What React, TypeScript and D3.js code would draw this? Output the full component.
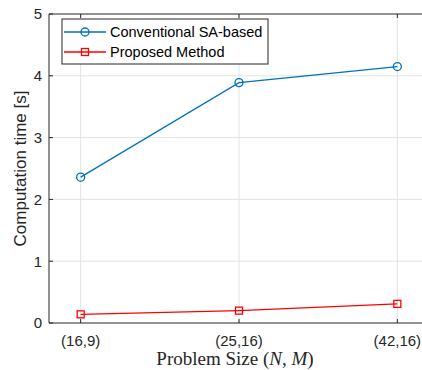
import React, { useEffect, useRef } from "react";
import * as d3 from "d3";

const categories = ["(16,9)", "(25,16)", "(42,16)"];
const conventional = [2.36, 3.89, 4.15];
const proposed = [0.14, 0.2, 0.31];
const yTicks = [0, 1, 2, 3, 4, 5];
const seriesNames = ["Conventional SA-based", "Proposed Method"];

const W = 422;
const H = 370;

const App = () => {
  const ref = useRef<SVGSVGElement>(null);

  useEffect(() => {
    const svg = d3.select(ref.current);
    svg.selectAll("*").remove();

    const left = 49, top = 14, bottom = 323;
    const x = d3.scaleLinear().domain([0.8, 3.2]).range([left, 429]);
    const y = d3.scaleLinear().domain([0, 5]).range([bottom, top]);
    const font = "'Liberation Sans', Arial, sans-serif";

    // grid
    const g = svg.append("g");
    g.selectAll(".gx")
      .data(categories)
      .join("line")
      .attr("x1", (_, i) => x(i + 1))
      .attr("x2", (_, i) => x(i + 1))
      .attr("y1", top)
      .attr("y2", bottom)
      .attr("stroke", "#e3e3e3")
      .attr("stroke-width", 1);
    g.selectAll(".gy")
      .data(yTicks.slice(1, -1))
      .join("line")
      .attr("x1", left)
      .attr("x2", W)
      .attr("y1", (d) => y(d))
      .attr("y2", (d) => y(d))
      .attr("stroke", "#e3e3e3")
      .attr("stroke-width", 1);

    // axes box
    const axis = svg.append("g").attr("stroke", "#262626").attr("stroke-width", 1);
    axis.append("line").attr("x1", left).attr("x2", W).attr("y1", bottom).attr("y2", bottom);
    axis.append("line").attr("x1", left).attr("x2", W).attr("y1", top).attr("y2", top);
    axis.append("line").attr("x1", left).attr("x2", left).attr("y1", top).attr("y2", bottom);

    // ticks (inward)
    categories.forEach((_, i) => {
      axis.append("line").attr("x1", x(i + 1)).attr("x2", x(i + 1)).attr("y1", bottom).attr("y2", bottom - 4);
      axis.append("line").attr("x1", x(i + 1)).attr("x2", x(i + 1)).attr("y1", top).attr("y2", top + 4);
    });
    yTicks.forEach((t) => {
      axis.append("line").attr("x1", left).attr("x2", left + 4).attr("y1", y(t)).attr("y2", y(t));
    });

    // tick labels
    svg.append("g")
      .selectAll("text")
      .data(yTicks)
      .join("text")
      .attr("x", 42)
      .attr("y", (d) => y(d))
      .attr("dy", "0.36em")
      .attr("text-anchor", "end")
      .attr("font-family", font)
      .attr("font-size", 15)
      .attr("fill", "#262626")
      .text((d) => d);

    svg.append("g")
      .selectAll("text")
      .data(categories)
      .join("text")
      .attr("x", (_, i) => x(i + 1))
      .attr("y", 346)
      .attr("text-anchor", "middle")
      .attr("font-family", font)
      .attr("font-size", 15)
      .attr("fill", "#262626")
      .text((d) => d);

    // axis labels
    svg.append("text")
      .attr("transform", `translate(26,${(top + bottom) / 2 + 0}) rotate(-90)`)
      .attr("text-anchor", "middle")
      .attr("font-family", font)
      .attr("font-size", 17)
      .attr("fill", "#262626")
      .text("Computation time [s]");

    const xl = svg.append("text")
      .attr("x", 235)
      .attr("y", 365)
      .attr("text-anchor", "middle")
      .attr("font-family", "'Liberation Serif', 'Times New Roman', serif")
      .attr("font-size", 19)
      .attr("fill", "#262626");
    xl.append("tspan").text("Problem Size (");
    xl.append("tspan").attr("font-style", "italic").text("N");
    xl.append("tspan").text(", ");
    xl.append("tspan").attr("font-style", "italic").text("M");
    xl.append("tspan").text(")");

    // lines
    const line = d3.line<number>().x((_, i) => x(i + 1)).y((d) => y(d));
    svg.append("path").datum(conventional).attr("d", line).attr("fill", "none").attr("stroke", "#0072BD").attr("stroke-width", 1.3);
    svg.append("g")
      .selectAll("circle")
      .data(conventional)
      .join("circle")
      .attr("cx", (_, i) => x(i + 1))
      .attr("cy", (d) => y(d))
      .attr("r", 4)
      .attr("fill", "none")
      .attr("stroke", "#0072BD")
      .attr("stroke-width", 1.3);

    svg.append("path").datum(proposed).attr("d", line).attr("fill", "none").attr("stroke", "#FF0000").attr("stroke-width", 1.3);
    svg.append("g")
      .selectAll("rect")
      .data(proposed)
      .join("rect")
      .attr("x", (_, i) => x(i + 1) - 3.5)
      .attr("y", (d) => y(d) - 3.5)
      .attr("width", 7)
      .attr("height", 7)
      .attr("fill", "none")
      .attr("stroke", "#FF0000")
      .attr("stroke-width", 1.3);

    // legend
    const lg = svg.append("g");
    lg.append("rect").attr("x", 62).attr("y", 19).attr("width", 206).attr("height", 45).attr("fill", "white").attr("stroke", "#262626").attr("stroke-width", 1);
    const colors = ["#0072BD", "#FF0000"];
    seriesNames.forEach((name, i) => {
      const cy = 32 + i * 20;
      lg.append("line").attr("x1", 64).attr("x2", 106).attr("y1", cy).attr("y2", cy).attr("stroke", colors[i]).attr("stroke-width", 1.3);
      if (i === 0) {
        lg.append("circle").attr("cx", 85).attr("cy", cy).attr("r", 4).attr("fill", "none").attr("stroke", colors[i]).attr("stroke-width", 1.3);
      } else {
        lg.append("rect").attr("x", 81.5).attr("y", cy - 3.5).attr("width", 7).attr("height", 7).attr("fill", "none").attr("stroke", colors[i]).attr("stroke-width", 1.3);
      }
      lg.append("text")
        .attr("x", 110)
        .attr("y", cy)
        .attr("dy", "0.36em")
        .attr("font-family", font)
        .attr("font-size", 14.5)
        .attr("fill", "#000")
        .text(name);
    });
  }, []);

  return (
    <svg
      ref={ref}
      width={W}
      height={H}
      style={{ position: "absolute", left: 0, top: 0, background: "white" }}
    ></svg>
  );
};

export default App;
